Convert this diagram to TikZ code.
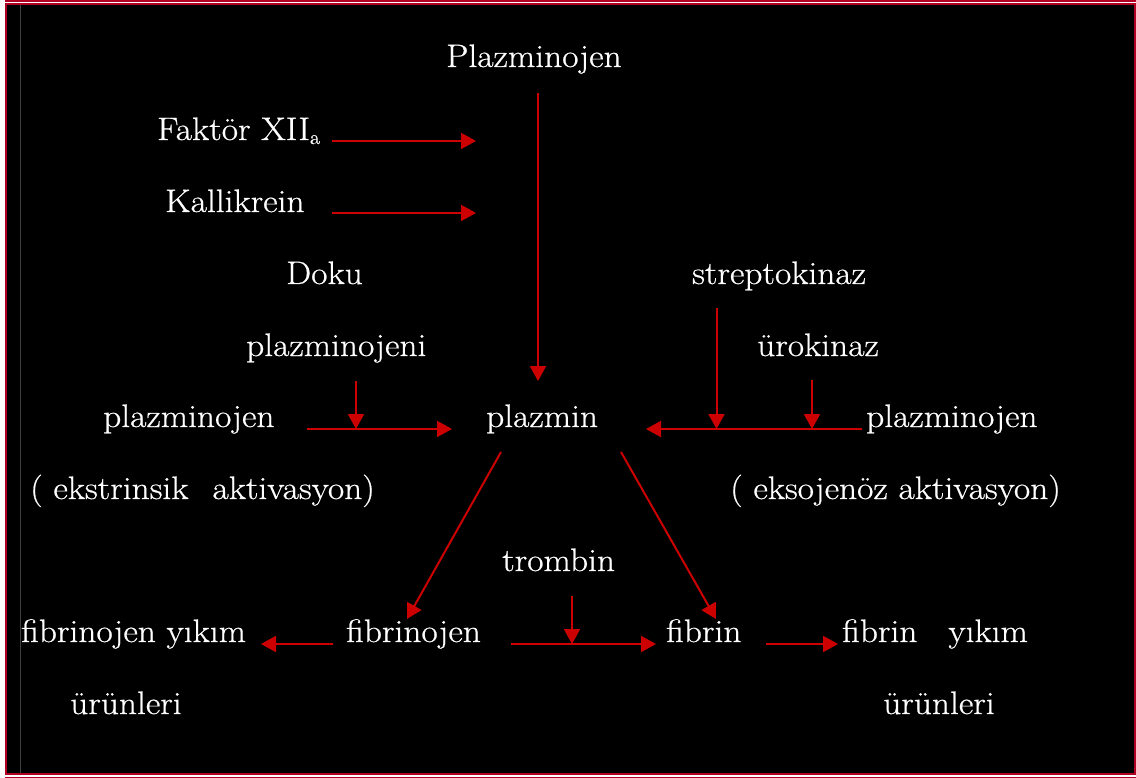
\documentclass[tikz,border=0pt]{standalone}
\usepackage{fontspec}
\setmainfont{Latin Modern Roman}[FakeStretch=1.09, FakeBold=0.6]
\usetikzlibrary{arrows.meta,calc}
\definecolor{arrowred}{RGB}{204,0,0}
\definecolor{framered}{RGB}{176,0,36}
\definecolor{rulegray}{RGB}{64,64,64}
\begin{document}
\begin{tikzpicture}[x=1pt,y=-1pt,
  txt/.style={anchor=base west, inner sep=0pt, text=white,
    font=\fontsize{32.5}{38}\selectfont},
  arr/.style={color=arrowred, line width=2pt,
    -{Triangle[length=15pt,width=16pt]}}]
\useasboundingbox (0,0) rectangle (1136,778);

% slide frame
\fill[white] (0,0) rectangle (1136,778);
\fill[black] (6,4) rectangle (1134.5,774.3);
\draw[framered, line width=2pt] (6,4) -- (1134.5,4) -- (1134.5,774.3) -- (6,774.3) -- cycle;
\draw[framered, line width=2pt] (5,1) -- (1136,1);
\draw[framered, line width=1.3pt] (5,777.4) -- (1136,777.4);
\draw[rulegray, line width=1pt] (20.3,5) -- (20.3,773);

% labels
\node[txt] (pl0)  at (446,67)  {Plazminojen};
\node[txt] (fak)  at (157,140) {Faktör XII\raisebox{-4pt}{\fontsize{20}{20}\selectfont a}};
\node[txt] (kal)  at (165,212) {Kallikrein};
\node[txt] (dok)  at (286,284) {Doku};
\node[txt] (pnj)  at (246,356) {plazminojeni};
\node[txt] (plzL) at (103,427) {plazminojen};
\node[txt] (ekst) at (30,499)  {( ekstrinsik\hspace{24pt}aktivasyon)};
\node[txt] (plm)  at (486,427) {plazmin};
\node[txt] (str)  at (692,284) {streptokinaz};
\node[txt] (uro)  at (757,356) {ürokinaz};
\node[txt] (plzR) at (866,427) {plazminojen};
\node[txt] (ekso) at (730,499) {( eksojenöz aktivasyon)};
\node[txt] (trb)  at (502,571) {trombin};
\node[txt] (fyk)  at (21,642)  {fibrinojen yıkım};
\node[txt] (ur1)  at (70,714)  {ürünleri};
\node[txt] (fbj)  at (346,642) {fibrinojen};
\node[txt] (fbr)  at (666,642) {fibrin};
\node[txt] (fbyk) at (842,642) {fibrin\hspace{31pt}yıkım};
\node[txt] (ur2)  at (883,714) {ürünleri};

% free ends of the activator arrows
\coordinate (fakEnd) at (476,141);
\coordinate (kalEnd) at (476,213);
\coordinate (jL) at (356,429);
\coordinate (jS) at (716.5,429);
\coordinate (jU) at (812,429);
\coordinate (jT) at (572,644);

% plasminogen -> plasmin
\draw[arr] ($(pl0.base west)+(92,26)$) -- ($(plm.base west)+(52,-46)$);
\draw[arr] ($(fak.base west)+(175,1)$) -- (fakEnd);
\draw[arr] ($(kal.base west)+(167,1)$) -- (kalEnd);

% intrinsic / extrinsic activation
\draw[arr] ($(pnj.base west)+(110,25)$) -- (jL);
\draw[arr] ($(plzL.base west)+(204,2)$) -- ($(plm.base west)+(-34,2)$);

% exogenous activation
\draw[arr] ($(str.base west)+(24.5,24)$) -- (jS);
\draw[arr] ($(uro.base west)+(55,24)$) -- (jU);
\draw[arr] ($(plzR.base west)+(-4,2)$) -- ($(plm.base west)+(160,2)$);

% plasmin acting on fibrinogen and fibrin
\draw[arr] ($(plm.base west)+(15,25)$) -- ($(fbj.base west)+(61,-23)$);
\draw[arr] ($(plm.base west)+(135,25)$) -- ($(fbr.base west)+(50,-23)$);

% degradation and thrombin
\draw[arr] ($(fbj.base west)+(-13,2)$) -- ($(fyk.base west)+(240,2)$);
\draw[arr] ($(fbj.base west)+(165,2)$) -- ($(fbr.base west)+(-10,2)$);
\draw[arr] ($(trb.base west)+(70,25)$) -- (jT);
\draw[arr] ($(fbr.base west)+(100,2)$) -- ($(fbyk.base west)+(-4,2)$);
\end{tikzpicture}
\end{document}
